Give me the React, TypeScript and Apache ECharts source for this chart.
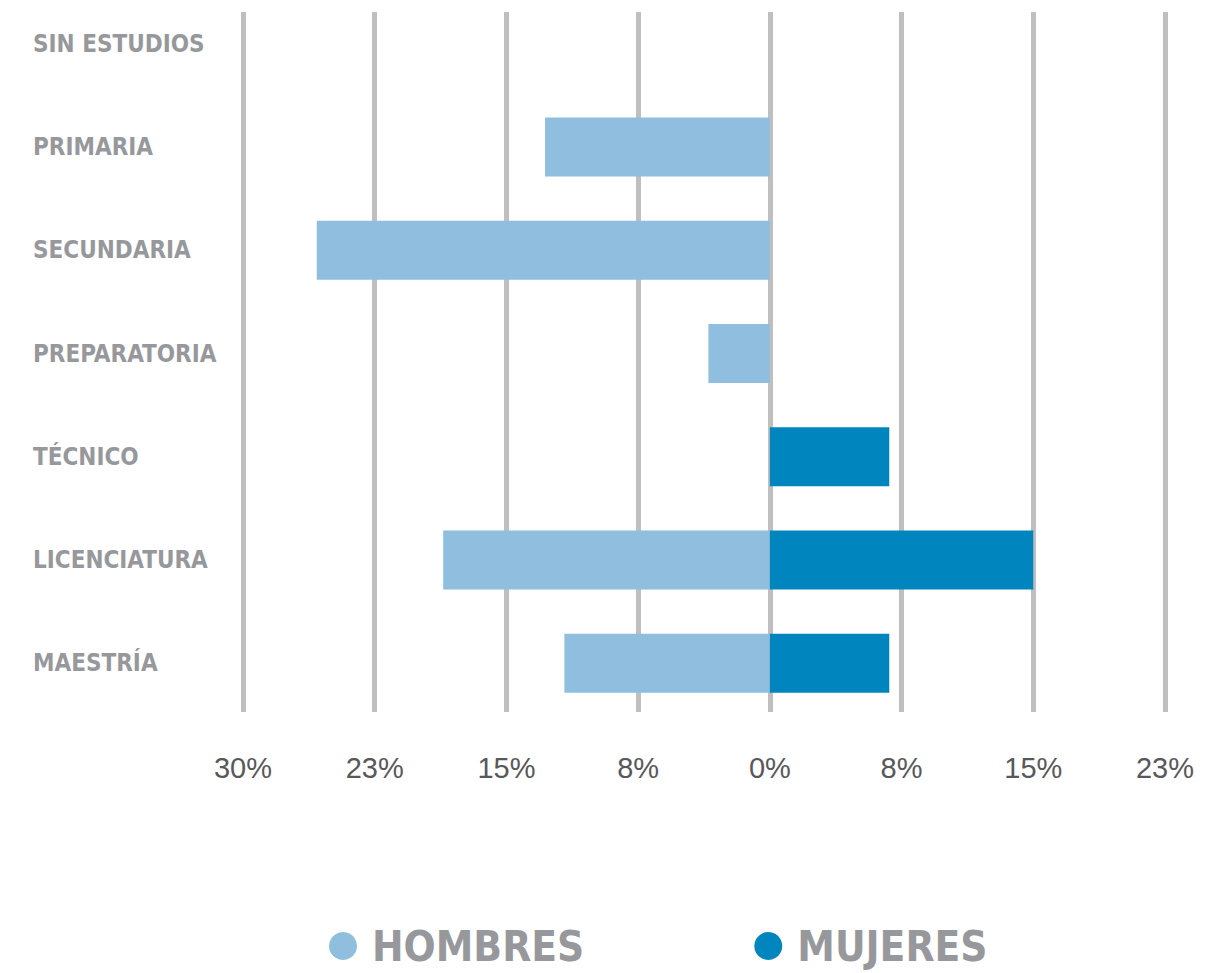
import React, { useEffect, useRef } from "react";
import * as echarts from "echarts";

const categories = ["SIN ESTUDIOS", "PRIMARIA", "SECUNDARIA", "PREPARATORIA", "TÉCNICO", "LICENCIATURA", "MAESTRÍA"];
const hombres = [0, 12.8, 25.8, 3.5, 0, 18.6, 11.7];
const mujeres = [0, 0, 0, 0, 6.8, 15.0, 6.8];
const xMin = -30;
const xMax = 22.5;
const xInterval = 7.5;

const labelFont = "'Liberation Sans Narrow', 'DejaVu Sans Condensed', 'Open Sans', sans-serif";

export default function App() {
  const ref = useRef<HTMLDivElement>(null);
  useEffect(() => {
    if (!ref.current) return;
    const chart = echarts.init(ref.current, null, { renderer: "svg" });
    const gridLeft = 243;
    const gridRight = 1232 - 1165;
    chart.setOption({
      animation: false,
      backgroundColor: "#ffffff",
      legend: {
        left: 324,
        top: 920,
        icon: "circle",
        itemWidth: 28,
        itemHeight: 28,
        itemGap: 170,
        textStyle: {
          fontFamily: labelFont,
          fontWeight: "bold",
          fontSize: 42,
          color: "#97989c",
          padding: [0, 0, 0, 10],
        },
        data: ["HOMBRES", "MUJERES"],
      },
      grid: [
        { left: gridLeft, right: gridRight, top: -8, height: 723, outerBoundsMode: "none" },
        { left: gridLeft, right: gridRight, top: 12, height: 700, outerBoundsMode: "none" },
      ],
      xAxis: [
        { type: "value", gridIndex: 0, min: xMin, max: xMax, interval: xInterval, show: false },
        {
          type: "value",
          gridIndex: 1,
          min: xMin,
          max: xMax,
          interval: xInterval,
          axisLine: { show: false },
          axisTick: { show: false },
          splitLine: { show: true, lineStyle: { color: "#bfbfbf", width: 5 } },
          axisLabel: {
            margin: 41,
            fontSize: 29,
            color: "#58585a",
            fontFamily: "'Liberation Sans', Arial, sans-serif",
            formatter: (v: number) => Math.round(Math.abs(v)) + "%",
          },
        },
      ],
      yAxis: [
        {
          type: "category",
          gridIndex: 0,
          data: categories,
          inverse: true,
          axisLine: { show: false },
          axisTick: { show: false },
          splitLine: { show: false },
          axisLabel: {
            align: "left",
            margin: gridLeft - 33,
            fontFamily: labelFont,
            fontWeight: "bold",
            fontSize: 24,
            color: "#97989c",
          },
        },
        { type: "category", gridIndex: 1, data: categories, inverse: true, show: false },
      ],
      series: [
        {
          name: "HOMBRES",
          type: "bar",
          xAxisIndex: 0,
          yAxisIndex: 0,
          barWidth: 59,
          barGap: "-100%",
          itemStyle: { color: "#8fbedf" },
          data: hombres.map((v) => -v),
        },
        {
          name: "MUJERES",
          type: "bar",
          xAxisIndex: 0,
          yAxisIndex: 0,
          barWidth: 59,
          barGap: "-100%",
          itemStyle: { color: "#0085be" },
          data: mujeres,
        },
      ],
    });
    return () => chart.dispose();
  }, []);
  return <div ref={ref} style={{ position: "absolute", left: 0, top: 0, width: 1232, height: 973 }} />;
}
